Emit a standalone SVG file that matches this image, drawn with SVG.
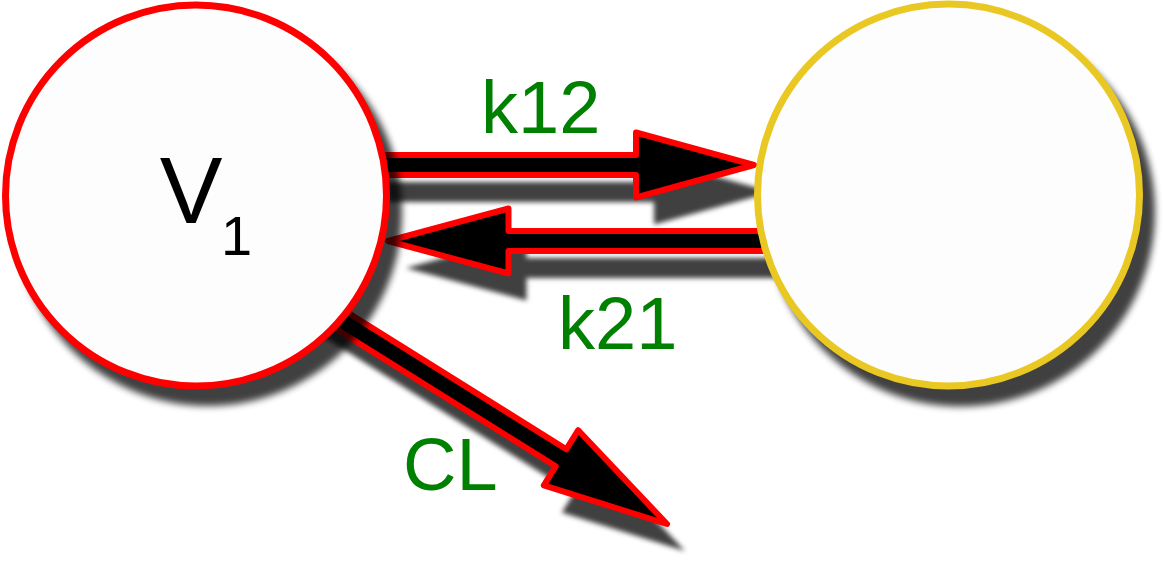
<svg xmlns="http://www.w3.org/2000/svg" xmlns:xlink="http://www.w3.org/1999/xlink" width="1164" height="562" viewBox="0 0 1164 562">
<style>
  .arrow{fill:#000;stroke:#ff0000;stroke-width:6;stroke-linejoin:round}
  .ashadow{fill:#000;stroke:none;opacity:.75}
  .nshadow{fill:#000;opacity:.75}
  .node{fill:#fdfdfd;stroke-width:7}
  .red{stroke:#ff0000}
  .yellow{stroke:#eac823}
  .lbl{font-family:"Liberation Sans",Arial,Helvetica,sans-serif;fill:#008000;font-size:74px}
  .vt{font-family:"Liberation Sans",Arial,Helvetica,sans-serif;fill:#000}
</style>
<defs>
  <filter id="blur" x="-30%" y="-30%" width="160%" height="160%">
    <feGaussianBlur stdDeviation="3.5"/>
  </filter>
  <filter id="ablur" x="-30%" y="-30%" width="160%" height="160%">
    <feGaussianBlur stdDeviation="2.6"/>
  </filter>
  <polygon id="a12" points="370,155 636,155 636,132.5 754,165 636,197.5 636,175 370,175"/>
  <polygon id="a21" points="388,241 508.5,208.5 508.5,231 775,231 775,251 508.5,251 508.5,273.5"/>
  <polygon id="acl" points="290.7,277 566.3,449.3 578.2,430.2 667,524 543.8,485.4 555.7,466.3 280.1,294"/>
</defs>
<rect width="1164" height="562" fill="#ffffff"/>
<g id="connectors">
  <g id="shadows" filter="url(#ablur)">
    <use xlink:href="#a12" class="ashadow" transform="translate(18,27)"/>
    <use xlink:href="#a21" class="ashadow" transform="translate(18,27)"/>
    <use xlink:href="#acl" class="ashadow" transform="translate(18,27)"/>
  </g>
  <use id="edge-k12" xlink:href="#a12" class="arrow"/>
  <use id="edge-k21" xlink:href="#a21" class="arrow"/>
  <use id="edge-cl" xlink:href="#acl" class="arrow"/>
  <text class="lbl" x="481" y="133">k12</text>
  <text class="lbl" x="558" y="349">k21</text>
  <text class="lbl" x="403" y="490">CL</text>
</g>
<g id="node-v1">
  <circle class="nshadow" cx="208" cy="212" r="194" filter="url(#blur)"/>
  <circle class="node red" cx="196" cy="195.5" r="190.5"/>
  <text class="vt" x="191" y="222.5" font-size="94" text-anchor="middle">V</text>
  <text class="vt" x="221" y="255" font-size="56">1</text>
</g>
<g id="node-v2">
  <circle class="nshadow" cx="960.5" cy="212" r="194.5" filter="url(#blur)"/>
  <circle class="node yellow" cx="948.5" cy="195" r="191"/>
</g>
</svg>
